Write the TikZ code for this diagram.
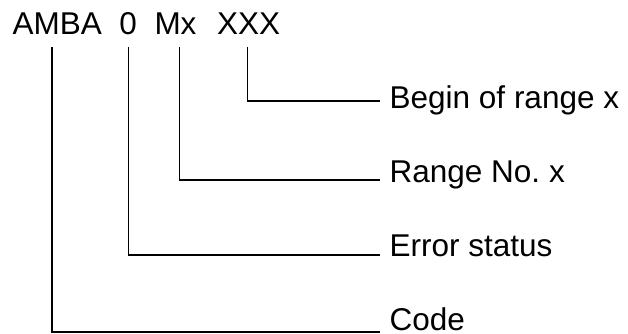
\documentclass[tikz,border=0pt]{standalone}
\usepackage{fontspec}
\setmainfont{Liberation Sans}
\frenchspacing
\begin{document}
\begin{tikzpicture}[x=1pt,y=-1pt,
  tok/.style={anchor=base west,inner sep=0pt,font=\fontsize{31.5}{36}\selectfont},
  lab/.style={anchor=base west,inner xsep=10pt,inner ysep=0pt,font=\fontsize{31.5}{36}\selectfont},
  conn/.style={line width=1.6pt,line cap=rect,line join=miter}]
\useasboundingbox (0,0) rectangle (628,334);
% top code tokens
\node[tok] (amba) at (12.5,34.3) {AMBA};
\node[tok] (zero) at (119.2,34.3) {0};
\node[tok] (mx) at (154.3,34.3) {Mx};
\node[tok] (xxx) at (216.8,34.3) {XXX};
% labels
\node[lab] (lBegin) at (379.5,108) {Begin of range x};
\node[lab] (lRange) at (379.5,182) {Range No. x};
\node[lab] (lError) at (379.5,256) {Error status};
\node[lab] (lCode) at (379.5,330.5) {Code};
% connector points
\coordinate (tA) at (51.7,48);
\coordinate (tZ) at (128.3,48);
\coordinate (tM) at (179.5,48);
\coordinate (tX) at (247.3,48);
\coordinate (eX) at (lBegin.base west |- 0,101);
\coordinate (eM) at (lRange.base west |- 0,180);
\coordinate (eZ) at (lError.base west |- 0,255);
\coordinate (eA) at (lCode.base west |- 0,332);
\draw[conn] (tX) |- (eX);
\draw[conn] (tM) |- (eM);
\draw[conn] (tZ) |- (eZ);
\draw[conn] (tA) |- (eA);
\end{tikzpicture}
\end{document}
